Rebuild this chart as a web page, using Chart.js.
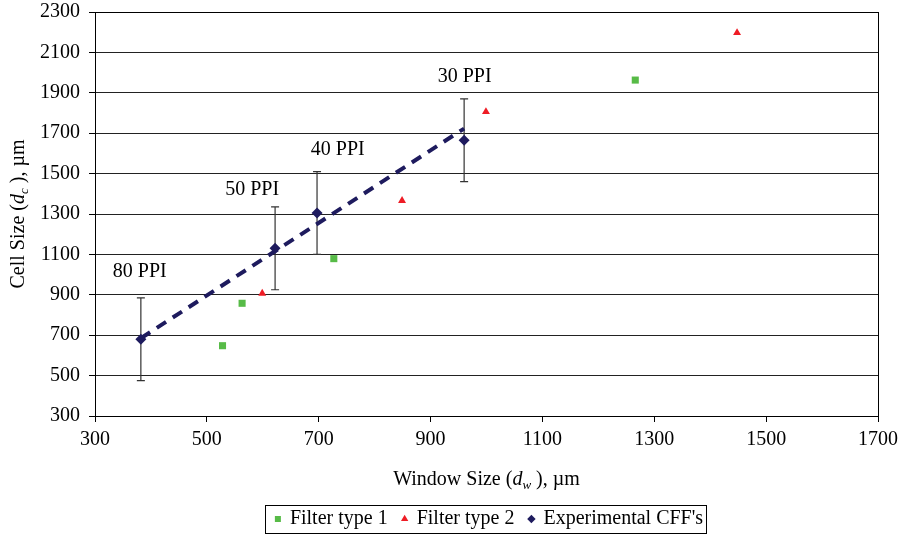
<!DOCTYPE html>
<html lang="en">
<head>
  <meta charset="UTF-8" />
  <title>Cell Size vs Window Size</title>
  <script src="https://cdn.jsdelivr.net/npm/chart.js"></script>
  <style>
    body { margin: 0; background: #fff; }
    #chart { display: block; }
  </style>
</head>
<body>
  <canvas id="chart" width="900" height="535"></canvas>

  <script>
    // values
    const filter1X = [528, 563, 727, 1266];
    const filter1Y = [648, 858, 1079, 1963];
    const filter2X = [599, 849, 999, 1448];
    const filter2Y = [907, 1366, 1806, 2197];
    const expX = [382, 622, 697, 960];
    const expY = [680, 1130, 1305, 1665];
    const expErr = [205, 205, 205, 205];
    const trendX = [382, 960];
    const trendY = [685, 1723];
    const ppiLabels = ['80 PPI', '50 PPI', '40 PPI', '30 PPI'];
    const ppiLabelX = [380, 581, 734, 961];
    const ppiLabelY = [1012, 1419, 1617, 1980];
    const xTicks = [300, 500, 700, 900, 1100, 1300, 1500, 1700];
    const yTicks = [300, 500, 700, 900, 1100, 1300, 1500, 1700, 1900, 2100, 2300];

    const FONT = "'Liberation Serif', 'Times New Roman', serif";
    const NAVY = '#1e1b5e';

    const toPoints = (xs, ys) => xs.map((x, i) => ({ x: x, y: ys[i] }));

    // error bars under the diamonds
    const errorBars = {
      id: 'errorBars',
      beforeDatasetsDraw(chart) {
        const { ctx, scales: { x, y } } = chart;
        ctx.save();
        ctx.strokeStyle = '#333';
        ctx.lineWidth = 1.2;
        expX.forEach((v, i) => {
          const px = x.getPixelForValue(v);
          const top = y.getPixelForValue(expY[i] + expErr[i]);
          const bot = y.getPixelForValue(expY[i] - expErr[i]);
          ctx.beginPath();
          ctx.moveTo(px, top); ctx.lineTo(px, bot);
          ctx.moveTo(px - 4, top); ctx.lineTo(px + 4, top);
          ctx.moveTo(px - 4, bot); ctx.lineTo(px + 4, bot);
          ctx.stroke();
        });
        ctx.restore();
      }
    };

    // writes a string made of plain / italic / subscript pieces
    function drawRich(ctx, parts, size) {
      const widths = parts.map(p => {
        ctx.font = (p.it ? 'italic ' : '') + (p.sub ? size * 0.65 : size) + 'px ' + FONT;
        return ctx.measureText(p.t).width;
      });
      const total = widths.reduce((a, b) => a + b, 0);
      let cx = -total / 2;
      parts.forEach((p, i) => {
        ctx.font = (p.it ? 'italic ' : '') + (p.sub ? size * 0.65 : size) + 'px ' + FONT;
        ctx.fillText(p.t, cx, p.sub ? size * 0.3 : 0);
        cx += widths[i];
      });
    }

    const decorations = {
      id: 'decorations',
      afterLayout(chart) {
        // centre the legend under the plot area and drop it a little
        const lg = chart.legend, a = chart.chartArea;
        const dx = (a.left + a.right) / 2 - (lg.left + lg.right) / 2 + 3;
        lg.left += dx; lg.right += dx;
        lg.top += 4; lg.bottom += 4;
      },
      afterDraw(chart) {
        const { ctx, chartArea: a, scales: { x, y } } = chart;
        ctx.save();
        // plot frame
        ctx.strokeStyle = '#000';
        ctx.lineWidth = 1;
        ctx.strokeRect(Math.round(a.left) + 0.5, Math.round(a.top) + 0.5,
          Math.round(a.right - a.left), Math.round(a.bottom - a.top));

        // PPI labels
        ctx.fillStyle = '#000';
        ctx.textAlign = 'left';
        ctx.textBaseline = 'middle';
        ctx.font = '20px ' + FONT;
        ppiLabels.forEach((t, i) => {
          const w = ctx.measureText(t).width;
          ctx.fillText(t, x.getPixelForValue(ppiLabelX[i]) - w / 2, y.getPixelForValue(ppiLabelY[i]));
        });

        // axis titles
        ctx.save();
        ctx.translate((a.left + a.right) / 2, 480);
        drawRich(ctx, [{ t: 'Window Size (' }, { t: 'd', it: true }, { t: 'w', it: true, sub: true }, { t: ' ), \u00b5m' }], 20);
        ctx.restore();
        ctx.save();
        ctx.translate(19, (a.top + a.bottom) / 2);
        ctx.rotate(-Math.PI / 2);
        drawRich(ctx, [{ t: 'Cell Size (' }, { t: 'd', it: true }, { t: 'c', it: true, sub: true }, { t: ' ), \u00b5m' }], 20);
        ctx.restore();

        // legend frame
        const boxes = chart.legend.legendHitBoxes;
        if (boxes && boxes.length) {
          const l = Math.min(...boxes.map(b => b.left)) - 11;
          const r = Math.max(...boxes.map(b => b.left + b.width)) + 3;
          const t = boxes[0].top - 4;
          const h = boxes[0].height + 8;
          ctx.strokeRect(Math.round(l) + 0.5, Math.round(t) + 0.5, Math.round(r - l), Math.round(h));
        }
        ctx.restore();
      }
    };

    new Chart(document.getElementById('chart'), {
      type: 'scatter',
      data: {
        datasets: [
          {
            label: 'Filter type 1',
            data: toPoints(filter1X, filter1Y),
            pointStyle: 'rect',
            pointRadius: 5,
            backgroundColor: '#57bb47',
            borderColor: '#57bb47',
            borderWidth: 0,
            order: 1
          },
          {
            label: 'Filter type 2',
            data: toPoints(filter2X, filter2Y),
            pointStyle: 'triangle',
            pointRadius: 4.6,
            backgroundColor: '#ee1c25',
            borderColor: '#ee1c25',
            borderWidth: 0,
            order: 2
          },
          {
            label: "Experimental CFF's",
            data: toPoints(expX, expY),
            pointStyle: 'rectRot',
            pointRadius: 5.5,
            backgroundColor: NAVY,
            borderColor: NAVY,
            borderWidth: 0,
            order: 3
          },
          {
            label: 'trend',
            data: toPoints(trendX, trendY),
            showLine: true,
            borderColor: NAVY,
            borderWidth: 4,
            borderDash: [11, 8],
            pointRadius: 0,
            order: 4
          }
        ]
      },
      options: {
        responsive: false,
        animation: false,
        layout: { padding: { top: 12, right: 22, left: 0, bottom: 0 } },
        plugins: {
          tooltip: { enabled: false },
          legend: {
            position: 'bottom',
            labels: {
              usePointStyle: true,
              boxWidth: 4,
              boxHeight: 6,
              padding: 15,
              color: '#000',
              font: { family: FONT, size: 20 },
              filter: item => item.text !== 'trend'
            }
          }
        },
        scales: {
          x: {
            type: 'linear',
            min: 300,
            max: 1700,
            afterFit: s => { s.height = 74; s.paddingLeft = 0; s.paddingRight = 0; },
            afterBuildTicks: s => { s.ticks = xTicks.map(v => ({ value: v })); },
            ticks: { color: '#000', padding: 6, font: { family: FONT, size: 20 }, callback: v => String(v) },
            grid: { drawOnChartArea: false, drawTicks: true, tickLength: 6, color: '#000' },
            border: { color: '#000' }
          },
          y: {
            type: 'linear',
            min: 300,
            max: 2300,
            afterFit: s => { s.width = 95; s.paddingTop = 0; s.paddingBottom = 0; },
            afterBuildTicks: s => { s.ticks = yTicks.map(v => ({ value: v })); },
            ticks: { color: '#000', padding: 9, font: { family: FONT, size: 20 }, callback: v => String(v) },
            grid: { color: '#222', tickLength: 6, tickColor: '#000' },
            border: { color: '#000' }
          }
        }
      },
      plugins: [errorBars, decorations]
    });
  </script>
</body>
</html>
